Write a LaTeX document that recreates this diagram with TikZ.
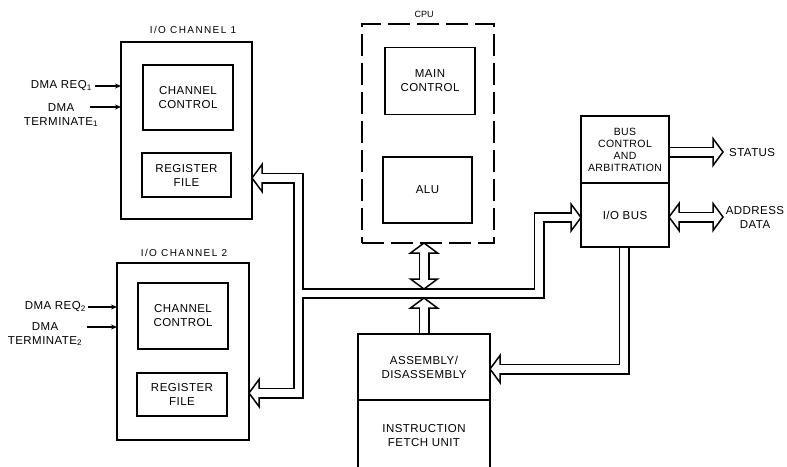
\documentclass[tikz,border=0pt]{standalone}
\usepackage{fontspec}
\setmainfont{Liberation Sans}
\usetikzlibrary{arrows.meta, positioning, calc}
\newcommand\boxfont{\fontsize{11.5}{14}\selectfont\addfontfeature{LetterSpace=4}}
\newcommand\smallfont{\fontsize{10.5}{12}\selectfont\addfontfeature{LetterSpace=4}}
\newcommand\titlefont{\fontsize{10}{12}\selectfont\addfontfeature{LetterSpace=14}}

\begin{document}
\begin{tikzpicture}[x=1pt, y=-1pt,
    box/.style={draw, line width=1.4pt, inner sep=0pt, outer sep=0pt, align=center, font=\boxfont},
    txt/.style={inner sep=0pt, align=center, font=\boxfont},
    chtitle/.style={inner sep=0pt, font=\titlefont},
    sig/.style={line width=1.3pt, -{Stealth[length=6pt, width=5pt]}},
    pipe/.style={line width=11pt, line join=miter},
    core/.style={line width=7.6pt, white, line join=miter},
    hhead/.pic={
        \draw[line width=1.5pt, fill=white, line join=miter] (0,0) -- (-10,13.5) -- (-10,-13.5) -- cycle;
        \fill[white] (-10.9,-3.8) rectangle (-9,3.8);
    }]
    \clip (0,0) rectangle (787,466);

    % I/O channel 1
    \node[box, minimum width=131pt, minimum height=177pt] (ch1) at (186.5,130.5) {};
    \node[box, minimum width=90pt, minimum height=65pt] (cc1) at (188,97.5) {CHANNEL\\CONTROL};
    \node[box, minimum width=89pt, minimum height=44pt] (rf1) at (186.5,175) {REGISTER\\FILE};
    \node[chtitle] (ch1t) at (193,30) {I/O CHANNEL 1};
    \node[txt, anchor=east] (req1) at (92,86) {DMA REQ\textsubscript{1}};
    \node[txt] (term1) at (61,115) {DMA\\TERMINATE\textsubscript{1}};
    \coordinate (term1s) at (90,107);
    \draw[sig] ($(req1.east)+(3,0)$) -- (req1.east -| ch1.west);
    \draw[sig] (term1s) -- (term1s -| ch1.west);

    % I/O channel 2
    \node[box, minimum width=132pt, minimum height=177pt] (ch2) at (183,351.5) {};
    \node[box, minimum width=90pt, minimum height=66pt] (cc2) at (183,316) {CHANNEL\\CONTROL};
    \node[box, minimum width=90pt, minimum height=43pt] (rf2) at (182,394.5) {REGISTER\\FILE};
    \node[chtitle] (ch2t) at (184,253) {I/O CHANNEL 2};
    \node[txt, anchor=east] (req2) at (86,307) {DMA REQ\textsubscript{2}};
    \node[txt] (term2) at (45,334) {DMA\\TERMINATE\textsubscript{2}};
    \coordinate (term2s) at (87,327);
    \draw[sig] ($(req2.east)+(2,0)$) -- (req2.east -| ch2.west);
    \draw[sig] (term2s) -- (term2s -| ch2.west);

    % CPU
    \node[box, dash pattern=on 22pt off 7pt, minimum width=132pt, minimum height=219pt] (cpu) at (428,133.5) {};
    \node[box, minimum width=90pt, minimum height=67pt] (mc) at (430,81) {MAIN\\CONTROL};
    \node[box, minimum width=89pt, minimum height=66pt] (alu) at (427.5,190) {ALU};
    \node[chtitle, font=\fontsize{9}{11}\selectfont] (cput) at (424,14) {CPU};

    % bus unit
    \node[box, font=\smallfont, minimum width=88pt, minimum height=67pt] (bca) at (625,149.5) {BUS\\CONTROL\\AND\\ARBITRATION};
    \node[box, minimum width=88pt, minimum height=64pt, below=0pt of bca] (iob) {I/O BUS};
    \node[txt, anchor=west] (stat) at (729,153) {STATUS};
    \node[txt] (addr) at (755,217) {ADDRESS\\DATA};

    % assembly and fetch
    \node[box, minimum width=132pt, minimum height=66pt] (asm) at (424,367) {ASSEMBLY/\\DISASSEMBLY};
    \node[box, minimum width=132pt, minimum height=72pt, below=0pt of asm] (ifu) {INSTRUCTION\\FETCH UNIT};

    % bus corners and arrow tips
    \coordinate (busA) at (298.5,178);
    \coordinate (busB) at (298.5,393);
    \coordinate (busC) at (298.5,293.5);
    \coordinate (busD) at (539,293.5);
    \coordinate (busE) at (539,217.5);
    \coordinate (busF) at (624,369);
    \coordinate (t1) at (ch1.east |- busA);
    \coordinate (t2) at (ch2.east |- busB);
    \coordinate (t3) at (iob.west |- busE);
    \coordinate (t4) at (asm.north |- cpu.south);
    \coordinate (t5) at ($(asm.north |- busC)+(0,-4.5)$);
    \coordinate (t6) at ($(asm.north |- busC)+(0,4.5)$);
    \coordinate (t7) at (asm.east |- busF);
    \coordinate (t8) at (723,152);
    \coordinate (t9) at (iob.east |- addr);
    \coordinate (t10) at (t8 |- addr);

    % outlines of the buses
    \draw[pipe] ($(t1)+(10,0)$) -- (busA) -- (busB) -- ($(t2)+(10,0)$);
    \draw[pipe] (busC) -- (busD) -- (busE) -- ($(t3)+(-10,0)$);
    \draw[pipe] ($(t4)+(0,10)$) -- ($(t5)+(0,-10)$);
    \draw[pipe] (asm.north) -- ($(t6)+(0,10)$);
    \draw[pipe] (iob.south -| busF) -- (busF) -- ($(t7)+(10,0)$);
    \draw[pipe] (bca.east |- t8) -- ($(t8)+(-10,0)$);
    \draw[pipe] ($(t9)+(10,0)$) -- ($(t10)+(-10,0)$);

    % hollow insides
    \draw[core] ($(t1)+(10,0)$) -- (busA) -- (busB) -- ($(t2)+(10,0)$);
    \draw[core] (busC) -- (busD) -- (busE) -- ($(t3)+(-10,0)$);
    \draw[core] ($(t4)+(0,10)$) -- ($(t5)+(0,-10)$);
    \draw[core, shorten <=0.7pt] (asm.north) -- ($(t6)+(0,10)$);
    \draw[core, shorten <=0.7pt] (iob.south -| busF) -- (busF) -- ($(t7)+(10,0)$);
    \draw[core, shorten <=0.7pt] (bca.east |- t8) -- ($(t8)+(-10,0)$);
    \draw[core] ($(t9)+(10,0)$) -- ($(t10)+(-10,0)$);

    % heads
    \pic[rotate=180] at (t1) {hhead};
    \pic[rotate=180] at (t2) {hhead};
    \pic at (t3) {hhead};
    \pic[rotate=90] at (t4) {hhead};
    \pic[rotate=-90] at (t5) {hhead};
    \pic[rotate=90] at (t6) {hhead};
    \pic[rotate=180] at (t7) {hhead};
    \pic at (t8) {hhead};
    \pic[rotate=180] at (t9) {hhead};
    \pic at (t10) {hhead};
\end{tikzpicture}
\end{document}
